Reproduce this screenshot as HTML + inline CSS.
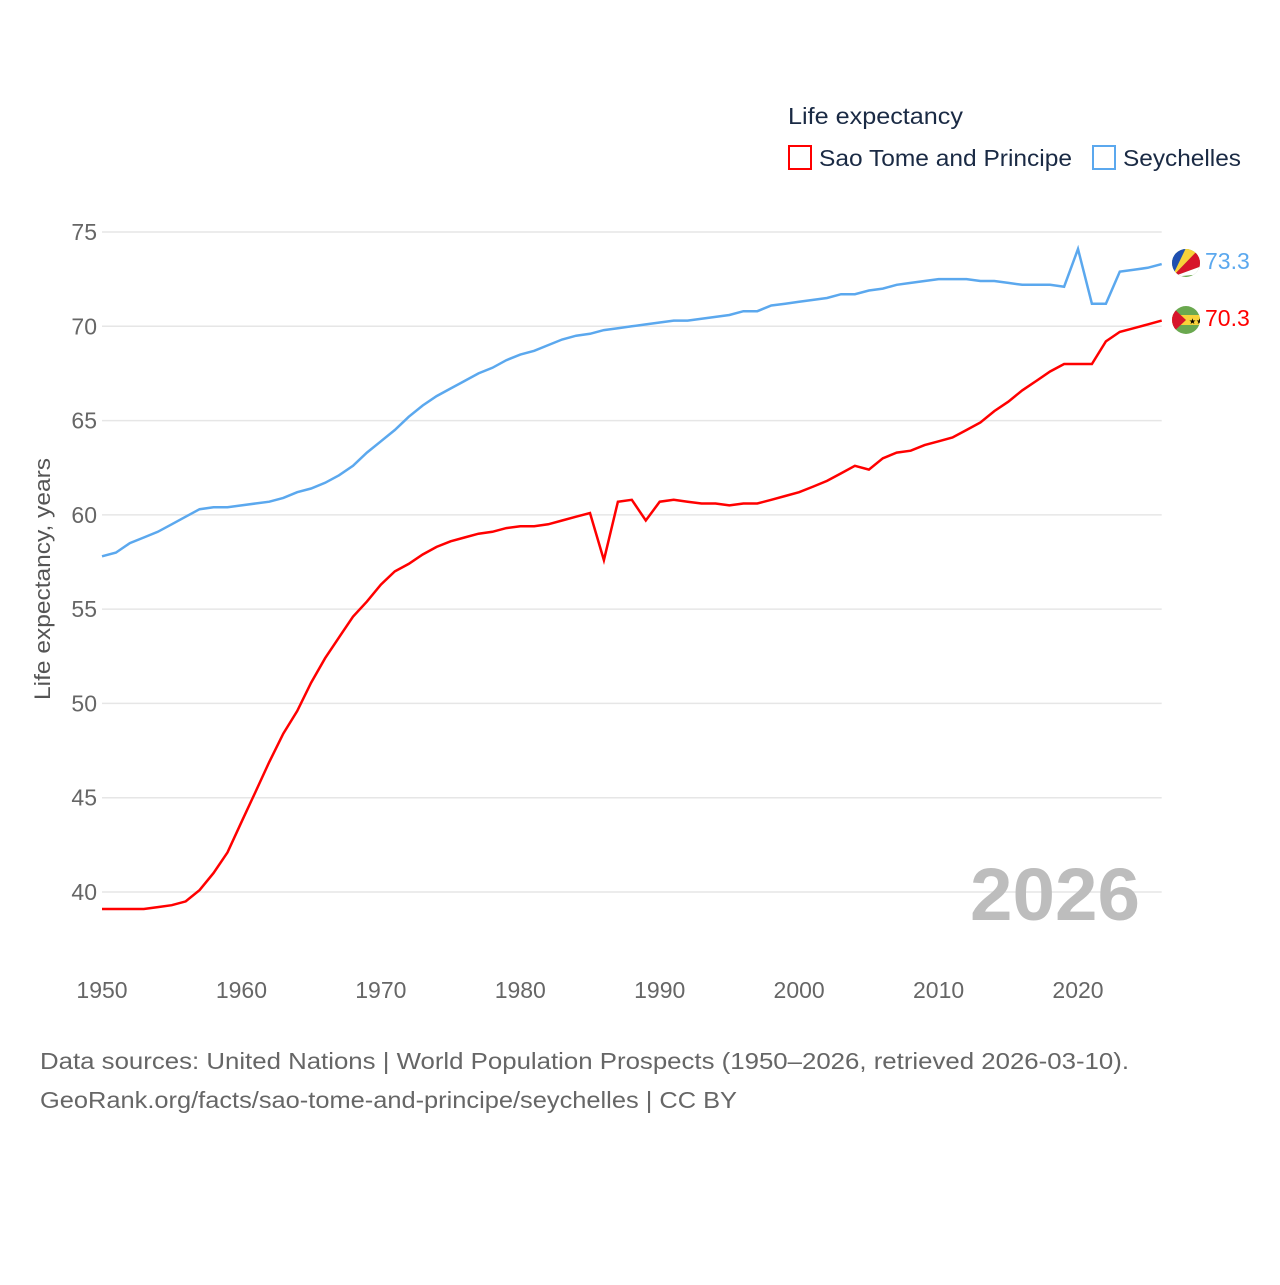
<!DOCTYPE html>
<html><head><meta charset="utf-8">
<style>
html,body{margin:0;padding:0;background:#fff;}
body{width:1280px;height:1280px;overflow:hidden;font-family:"Liberation Sans",sans-serif;}
svg text{font-family:"Liberation Sans",sans-serif;}
</style></head>
<body>
<svg id="chart" width="1280" height="1280" viewBox="0 0 1280 1280" xmlns="http://www.w3.org/2000/svg">
  <g id="grid"></g>
  <g id="yticks"></g>
  <g id="xticks"></g>
  <text transform="translate(50,579) rotate(-90)" text-anchor="middle" font-size="22" fill="#555" textLength="242" lengthAdjust="spacingAndGlyphs">Life expectancy, years</text>
  <text x="1140" y="920" text-anchor="end" font-size="74" font-weight="bold" fill="#bdbdbd" textLength="170" lengthAdjust="spacingAndGlyphs">2026</text>
  <g id="series"></g>
  <g>
    <text x="788" y="124" font-size="23" fill="#1a2a44" textLength="175" lengthAdjust="spacingAndGlyphs">Life expectancy</text>
    <g>
      <rect x="789" y="146" width="22" height="23" fill="none" stroke="#ff0000" stroke-width="2"/>
      <text x="819" y="166" font-size="23" fill="#1a2a44" textLength="253" lengthAdjust="spacingAndGlyphs">Sao Tome and Principe</text>
    </g>
    <g>
      <rect x="1093" y="146" width="22" height="23" fill="none" stroke="#5ba8ee" stroke-width="2"/>
      <text x="1123" y="166" font-size="23" fill="#1a2a44" textLength="118" lengthAdjust="spacingAndGlyphs">Seychelles</text>
    </g>
  </g>
  <g>
    <clipPath id="c1"><circle cx="1186" cy="263" r="14"/></clipPath>
    <g clip-path="url(#c1)">
      <rect x="1170" y="248" width="32" height="32" fill="#6aa84f"/>
      <polygon points="1172,277 1172,248 1186,248" fill="#1f4fb0"/>
      <polygon points="1172,277 1186,248 1200,248" fill="#f7d23a"/>
      <polygon points="1172,277 1200,248 1202,266" fill="#d7142a"/>
      <polygon points="1172,277 1202,266 1202,274" fill="#ffffff"/>
    </g>
  </g>
  <g>
    <clipPath id="c2"><circle cx="1186" cy="320" r="14"/></clipPath>
    <g clip-path="url(#c2)">
      <rect x="1170" y="305" width="32" height="32" fill="#6aa84f"/>
      <rect x="1170" y="315" width="32" height="10" fill="#f7d23a"/>
      <polygon points="1170,305 1186,320 1170,335" fill="#d7142a"/>
      <text x="1196" y="324" font-size="8" text-anchor="middle" fill="#000">★★</text>
    </g>
  </g>
  <text x="1205" y="269" font-size="23" fill="#5ba8ee">73.3</text>
  <text x="1205" y="326" font-size="23" fill="#ff0000">70.3</text>
  <text x="40" y="1069" font-size="23" fill="#666" textLength="1089" lengthAdjust="spacingAndGlyphs">Data sources: United Nations | World Population Prospects (1950–2026, retrieved 2026-03-10).</text>
  <text x="40" y="1108" font-size="23" fill="#666" textLength="697" lengthAdjust="spacingAndGlyphs">GeoRank.org/facts/sao-tome-and-principe/seychelles | CC BY</text>
</svg>
<script>
const startYear = 1950;
const yTicks = [40,45,50,55,60,65,70,75];
const xTicks = [1950,1960,1970,1980,1990,2000,2010,2020];
const saoTome = [39.1,39.1,39.1,39.1,39.2,39.3,39.5,40.1,41.0,42.1,43.7,45.3,46.9,48.4,49.6,51.1,52.4,53.5,54.6,55.4,56.3,57.0,57.4,57.9,58.3,58.6,58.8,59.0,59.1,59.3,59.4,59.4,59.5,59.7,59.9,60.1,57.6,60.7,60.8,59.7,60.7,60.8,60.7,60.6,60.6,60.5,60.6,60.6,60.8,61.0,61.2,61.5,61.8,62.2,62.6,62.4,63.0,63.3,63.4,63.7,63.9,64.1,64.5,64.9,65.5,66.0,66.6,67.1,67.6,68.0,68.0,68.0,69.2,69.7,69.9,70.1,70.3];
const seychelles = [57.8,58.0,58.5,58.8,59.1,59.5,59.9,60.3,60.4,60.4,60.5,60.6,60.7,60.9,61.2,61.4,61.7,62.1,62.6,63.3,63.9,64.5,65.2,65.8,66.3,66.7,67.1,67.5,67.8,68.2,68.5,68.7,69.0,69.3,69.5,69.6,69.8,69.9,70.0,70.1,70.2,70.3,70.3,70.4,70.5,70.6,70.8,70.8,71.1,71.2,71.3,71.4,71.5,71.7,71.7,71.9,72.0,72.2,72.3,72.4,72.5,72.5,72.5,72.4,72.4,72.3,72.2,72.2,72.2,72.1,74.1,71.2,71.2,72.9,73.0,73.1,73.3];
const NS="http://www.w3.org/2000/svg";
const X0=102, X1=1161.7, Y0=892, PERY=(1078-102)/70, PERV=660/35;
function xs(yr){return X0+(yr-1950)*PERY;}
function ys(v){return Y0-(v-40)*PERV;}
function mk(tag,attrs,parent){const e=document.createElementNS(NS,tag);for(const k in attrs)e.setAttribute(k,attrs[k]);parent.appendChild(e);return e;}
const grid=document.getElementById('grid'), yt=document.getElementById('yticks'), xt=document.getElementById('xticks'), ser=document.getElementById('series');
yTicks.forEach(v=>{
  const l=mk('line',{x1:X0,x2:X1,y1:ys(v),y2:ys(v),stroke:'#e6e6e6','stroke-width':1.5},grid);
  
  
  const t=mk('text',{x:97,y:ys(v)+8,'text-anchor':'end','font-size':23,fill:'#666'},yt);
  t.textContent=v;
  
  
});
xTicks.forEach(yr=>{
  const t=mk('text',{x:xs(yr),y:998,'text-anchor':'middle','font-size':23,fill:'#666'},xt);
  t.textContent=yr;
  
  
});
function line(data,color,name){
  const pts=data.map((v,i)=>xs(startYear+i).toFixed(1)+','+ys(v).toFixed(1)).join(' ');
  const p=mk('polyline',{points:pts,fill:'none',stroke:color,'stroke-width':2.5,'stroke-linejoin':'miter'},ser);
  
  
}
line(seychelles,'#5ba8ee','line-seychelles');
line(saoTome,'#ff0000','line-sao-tome');
</script>
</body></html>
